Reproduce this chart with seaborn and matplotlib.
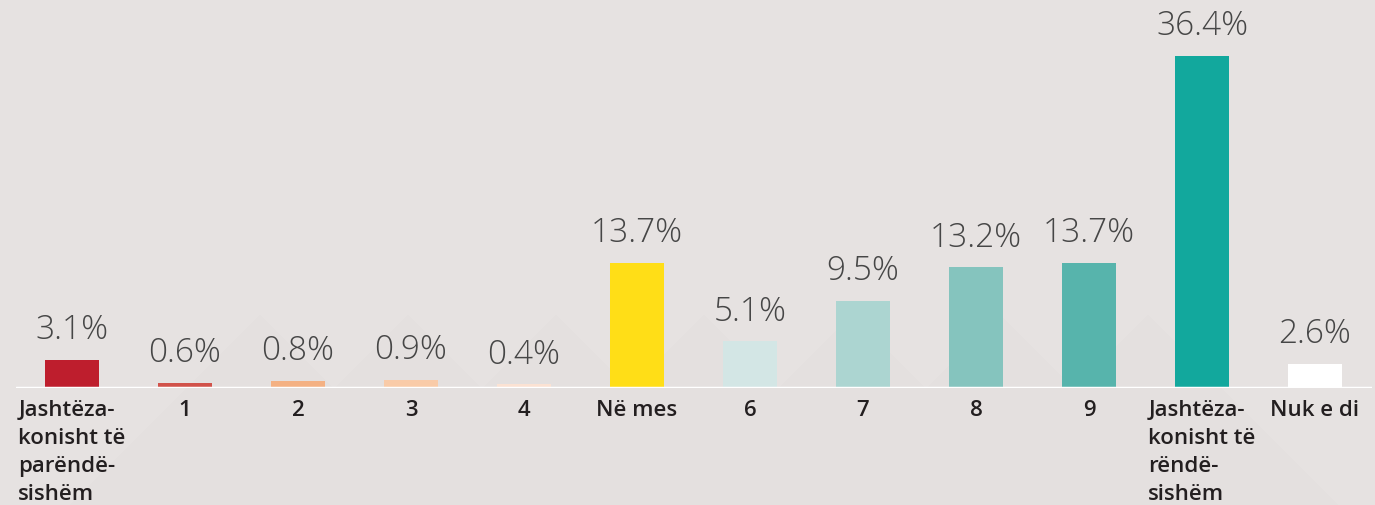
import matplotlib
matplotlib.use("Agg")
import matplotlib.pyplot as plt
import seaborn as sns
import pandas as pd
from matplotlib.patches import Polygon

categories = ["Jashtëza-\nkonisht të\nparëndë-\nsishëm", "1", "2", "3", "4", "Në mes",
              "6", "7", "8", "9", "Jashtëza-\nkonisht të\nrëndë-\nsishëm", "Nuk e di"]
values = [3.1, 0.6, 0.8, 0.9, 0.4, 13.7, 5.1, 9.5, 13.2, 13.7, 36.4, 2.6]
labels = ["3.1%", "0.6%", "0.8%", "0.9%", "0.4%", "13.7%", "5.1%", "9.5%", "13.2%", "13.7%", "36.4%", "2.6%"]
colors = ["#be1e2d", "#d1524a", "#f4b183", "#f9cba8", "#fbe2d3", "#ffde17",
          "#d3e6e5", "#acd5d1", "#85c4be", "#57b4ac", "#12a89d", "#ffffff"]

bg = "#e6e2e1"
sns.set_theme(style="white")
plt.rcParams['font.family'] = ['Open Sans', 'DejaVu Sans']

df = pd.DataFrame({"cat": categories, "val": values})

fig = plt.figure(figsize=(13.75, 5.05), dpi=100, facecolor=bg)

# faint chevron decoration in the background
for cx in [260, 408, 556, 704, 852, 1000, 1148]:
    tri = Polygon([[(cx - 190) / 1375, 0], [cx / 1375, (505 - 315) / 505], [(cx + 190) / 1375, 0]],
                  closed=True, transform=fig.transFigure, facecolor="#e4e0df", edgecolor="none", zorder=-5)
    fig.patches.append(tri)

ax = fig.add_axes([15.5 / 1375, 117 / 505, 1356 / 1375, 388 / 505])
ax.patch.set_alpha(0)
sns.barplot(data=df, x="cat", y="val", hue="cat", palette=colors, legend=False,
            width=0.47, saturation=1, edgecolor="none", linewidth=0, ax=ax)
ax.set_xlim(-0.5, len(categories) - 0.5)
ax.set_ylim(0, 42.5)

for i, (v, lab) in enumerate(zip(values, labels)):
    ax.text(i, v + 1.4, lab, ha="center", va="bottom", fontsize=24, color="#464646",
            fontweight="light")

ax.axhline(0, color="white", lw=2.5, zorder=5)
sns.despine(ax=ax, left=True, bottom=True)
ax.set_yticks([])
ax.set_xlabel("")
ax.set_ylabel("")
ax.tick_params(axis="x", length=0, pad=9)
for t in ax.get_xticklabels():
    t.set_fontsize(16)
    t.set_color("#231f20")
    t.set_fontweight("semibold")
    t.set_verticalalignment("top")
    t.set_multialignment("left")
    t.set_linespacing(1.42)

fig.savefig("out.png", dpi=100, facecolor=bg)
